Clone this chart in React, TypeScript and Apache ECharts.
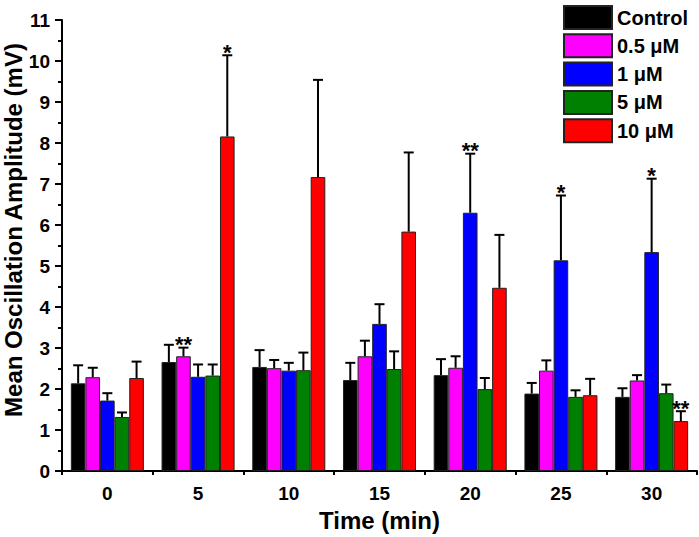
import React, { useEffect, useRef } from "react";
import * as echarts from "echarts";

const categories = ["0", "5", "10", "15", "20", "25", "30"];
const seriesNames = ["Control", "0.5 μM", "1 μM", "5 μM", "10 μM"];
const seriesColors = ["#000000", "#ff00ff", "#0000ff", "#008000", "#ff0000"];

const controlMean = [2.14, 2.66, 2.54, 2.22, 2.34, 1.89, 1.81];
const controlSd = [0.44, 0.42, 0.41, 0.42, 0.39, 0.26, 0.21];
const halfMean = [2.29, 2.8, 2.51, 2.8, 2.52, 2.45, 2.21];
const halfSd = [0.23, 0.21, 0.2, 0.38, 0.28, 0.25, 0.13];
const oneMean = [1.72, 2.3, 2.45, 3.59, 6.3, 5.14, 5.34];
const oneSd = [0.18, 0.3, 0.19, 0.48, 1.44, 1.58, 1.79];
const fiveMean = [1.32, 2.33, 2.46, 2.49, 2.0, 1.81, 1.9];
const fiveSd = [0.11, 0.27, 0.43, 0.43, 0.27, 0.16, 0.21];
const tenMean = [2.27, 8.16, 7.17, 5.84, 4.47, 1.85, 1.22];
const tenSd = [0.4, 1.98, 2.37, 1.93, 1.29, 0.4, 0.24];

const controlSig = ["", "", "", "", "", "", ""];
const halfSig = ["", "**", "", "", "", "", ""];
const oneSig = ["", "", "", "", "**", "*", "*"];
const fiveSig = ["", "", "", "", "", "", ""];
const tenSig = ["", "*", "", "", "", "", "**"];

const yTicks = [0, 11, 1];
const yTitle = "Mean Oscillation Amplitude (mV)";
const xTitle = "Time (min)";

const means = [controlMean, halfMean, oneMean, fiveMean, tenMean];
const sds = [controlSd, halfSd, oneSd, fiveSd, tenSd];
const sigs = [controlSig, halfSig, oneSig, fiveSig, tenSig];

const FONT = '"Liberation Sans", Arial, Helvetica, sans-serif';
const GAP = 0.195;

export default function App() {
  const ref = useRef<HTMLDivElement>(null);
  useEffect(() => {
    if (!ref.current) return;
    const chart = echarts.init(ref.current, null, { renderer: "svg" });
    const errData: any[] = [];
    means.forEach((m, s) => {
      m.forEach((v, g) => {
        errData.push([g, s, v, v + sds[s][g], sigs[s][g]]);
      });
    });
    const barSeries = seriesNames.map((name, s) => ({
      name,
      type: "bar",
      data: means[s],
      barGap: "0%",
      barCategoryGap: GAP * 100 + "%",
      itemStyle: { color: seriesColors[s], borderColor: "#222", borderWidth: 1 },
      xAxisIndex: 0,
      yAxisIndex: 0,
    }));
    const option: any = {
      animation: false,
      backgroundColor: "#ffffff",
      textStyle: { fontFamily: FONT },
      grid: { left: 62, right: 2, top: 20, bottom: 60, containLabel: false },
      legend: {
        orient: "vertical",
        left: 558,
        top: 0,
        itemWidth: 48,
        itemHeight: 23,
        itemGap: 3.3,
        icon: "rect",
        data: seriesNames,
        textStyle: { fontFamily: FONT, fontSize: 20, fontWeight: "bold", color: "#000" },
      },
      graphic: [
        {
          type: "text",
          x: 13,
          y: 230,
          rotation: Math.PI / 2,
          silent: true,
          style: {
            text: yTitle,
            font: `bold 24px ${FONT}`,
            fill: "#000",
            align: "center",
            verticalAlign: "middle",
          },
        },
      ],
      xAxis: [
        {
          type: "category",
          data: categories,
          name: xTitle,
          nameLocation: "middle",
          nameGap: 35,
          nameTextStyle: { fontFamily: FONT, fontSize: 24, fontWeight: "bold", color: "#000" },
          axisLine: { lineStyle: { color: "#000", width: 2 } },
          axisTick: { alignWithLabel: true, length: 6, lineStyle: { color: "#000", width: 2 } },
          axisLabel: { margin: 13, fontFamily: FONT, fontSize: 19, fontWeight: "bold", color: "#000" },
        },
        {
          type: "category",
          data: categories,
          position: "bottom",
          axisLine: { show: false },
          axisTick: { show: true, length: 4, lineStyle: { color: "#000", width: 2 } },
          axisLabel: { show: false },
        },
      ],
      yAxis: {
        type: "value",
        min: yTicks[0],
        max: yTicks[1],
        interval: yTicks[2],
        axisLine: { show: true, lineStyle: { color: "#000", width: 2 } },
        axisTick: { show: true, length: 7, lineStyle: { color: "#000", width: 2 } },
        minorTick: { show: true, splitNumber: 2, length: 4, lineStyle: { color: "#000", width: 2 } },
        splitLine: { show: false },
        axisLabel: { margin: 12, fontFamily: FONT, fontSize: 19, fontWeight: "bold", color: "#000" },
      },
      series: [
        ...barSeries,
        {
          type: "custom",
          xAxisIndex: 0,
          yAxisIndex: 0,
          data: errData,
          z: 10,
          encode: { x: 0, y: 3 },
          renderItem: (params: any, api: any) => {
            const g = api.value(0);
            const s = api.value(1);
            const v = api.value(2);
            const top = api.value(3);
            const sig = errData[params.dataIndex][4];
            const c = api.coord([g, 0])[0];
            const band = api.size([1, 0])[0];
            const bw = (band * (1 - GAP)) / 5;
            const x = c + (s - 2) * bw;
            const y1 = api.coord([g, v])[1];
            const y2 = api.coord([g, top])[1];
            const ls = { stroke: "#000", lineWidth: 2 };
            const children: any[] = [
              { type: "line", shape: { x1: x, y1: y1, x2: x, y2: y2 }, style: ls },
              { type: "line", shape: { x1: x - 5, y1: y2, x2: x + 5, y2: y2 }, style: ls },
            ];
            if (sig) {
              children.push({
                type: "text",
                style: {
                  text: sig,
                  x: x,
                  y: y2 - 3,
                  align: "center",
                  verticalAlign: "middle",
                  font: `bold 22px ${FONT}`,
                  fill: "#000",
                },
              });
            }
            return { type: "group", children };
          },
        },
      ],
    };
    chart.setOption(option);
    return () => chart.dispose();
  }, []);
  return (
    <div
      ref={ref}
      style={{ position: "absolute", left: 0, top: 0, width: 699, height: 537, background: "#fff" }}
    />
  );
}
